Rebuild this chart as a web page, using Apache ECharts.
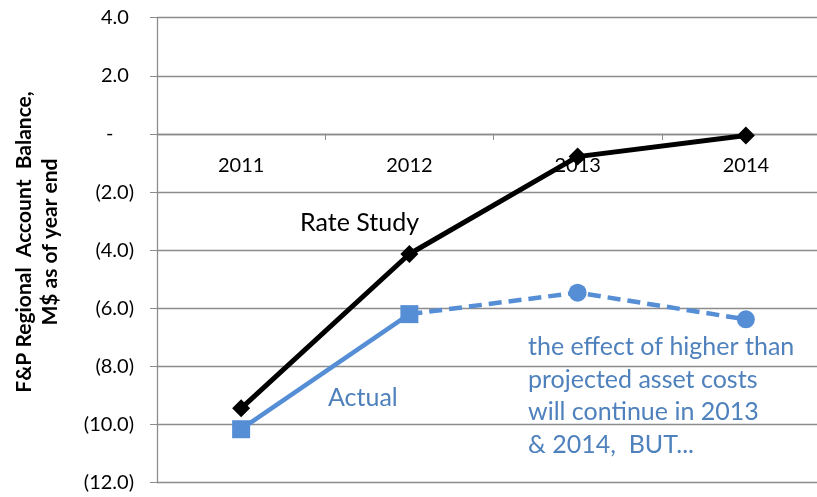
<!DOCTYPE html>
<html><head><meta charset="utf-8">
<script src="https://cdn.jsdelivr.net/npm/echarts@6/dist/echarts.min.js"></script>
<style>html,body{margin:0;padding:0;background:#fff}#c{width:817px;height:497px}</style>
</head><body><div id="c"></div>
<script>
var categories = ['2011', '2012', '2013', '2014'];
var rateStudy = [-9.44, -4.13, -0.78, -0.05];
var actual = [-10.16, -6.2, null, null];
var projected = [null, -6.2, -5.46, -6.38];
var yTicks = [-12, -10, -8, -6, -4, -2, 0, 2, 4];

var FONT = 'Lato';
var BLUE = '#558ED5';
var TEXTBLUE = '#4F81BD';
var GRID = '#8C8C8C';

var W = 817, H = 497;
var gridTop = 17.7, gridBottom = 14.3;
var yMin = yTicks[0], yMax = yTicks[yTicks.length - 1];
// move the category axis up to the value 0 line
var plotH = H - gridTop - gridBottom;
var zeroOffset = -plotH * (0 - yMin) / (yMax - yMin);

function fmt(v) {
  if (v === 0) return '-\u00a0\u00a0\u00a0\u00a0';
  if (v < 0) return '(' + Math.abs(v).toFixed(1) + ')';
  return v.toFixed(1) + '\u00a0';
}

var chart = echarts.init(document.getElementById('c'));
chart.setOption({
  animation: false,
  grid: { left: 157, right: -13, top: gridTop, bottom: gridBottom, containLabel: false, outerBoundsMode: 'none' },
  xAxis: {
    type: 'category', data: categories, boundaryGap: true, position: 'bottom', offset: zeroOffset,
    axisLine: { onZero: false, lineStyle: { color: GRID, width: 1.3 } },
    axisTick: { show: true, length: 6, inside: false, lineStyle: { color: GRID } },
    axisLabel: { color: '#000', fontFamily: FONT, fontSize: 20, margin: 22 },
    splitLine: { show: false }
  },
  yAxis: {
    type: 'value', min: yMin, max: yMax, interval: 2,
    axisLine: { show: true, onZero: false, lineStyle: { color: GRID, width: 1.3 } },
    axisTick: { show: true, length: 7, lineStyle: { color: GRID } },
    axisLabel: { color: '#000', fontFamily: FONT, fontSize: 20, margin: 23, formatter: fmt },
    splitLine: { show: true, lineStyle: { color: GRID, width: 1.3 } }
  },
  graphic: [
    { type: 'text', x: 37, y: 242, rotation: Math.PI / 2,
      style: { text: 'F&P Regional  Account  Balance,\nM$ as of year end', fill: '#000',
        fontFamily: FONT, fontWeight: 'bold', fontSize: 21, align: 'center', verticalAlign: 'middle', lineHeight: 26 } },
    { type: 'text', x: 300, y: 223,
      style: { text: 'Rate Study', fill: '#000', fontFamily: FONT, fontSize: 25, verticalAlign: 'middle' } },
    { type: 'text', x: 328, y: 398,
      style: { text: 'Actual', fill: TEXTBLUE, fontFamily: FONT, fontSize: 25, verticalAlign: 'middle' } },
    { type: 'text', x: 528, y: 330.5,
      style: { text: 'the effect of higher than\nprojected asset costs\nwill continue in 2013\n& 2014,  BUT...',
        fill: TEXTBLUE, fontFamily: FONT, fontSize: 25, verticalAlign: 'top', lineHeight: 32.7 } }
  ],
  series: [
    { name: 'Rate Study', type: 'line', data: rateStudy, symbol: 'diamond', symbolSize: 18,
      lineStyle: { color: '#000', width: 5 }, itemStyle: { color: '#000' }, z: 3 },
    { name: 'Projected', type: 'line', data: projected,
      symbol: function (v, p) { return p.dataIndex === 1 ? 'none' : 'circle'; }, symbolSize: 18,
      lineStyle: { color: BLUE, width: 4.5, type: [13, 7] }, itemStyle: { color: BLUE }, z: 2 },
    { name: 'Actual', type: 'line', data: actual, symbol: 'rect', symbolSize: 18,
      lineStyle: { color: BLUE, width: 4.5 }, itemStyle: { color: BLUE }, z: 4 }
  ]
});
</script></body></html>
